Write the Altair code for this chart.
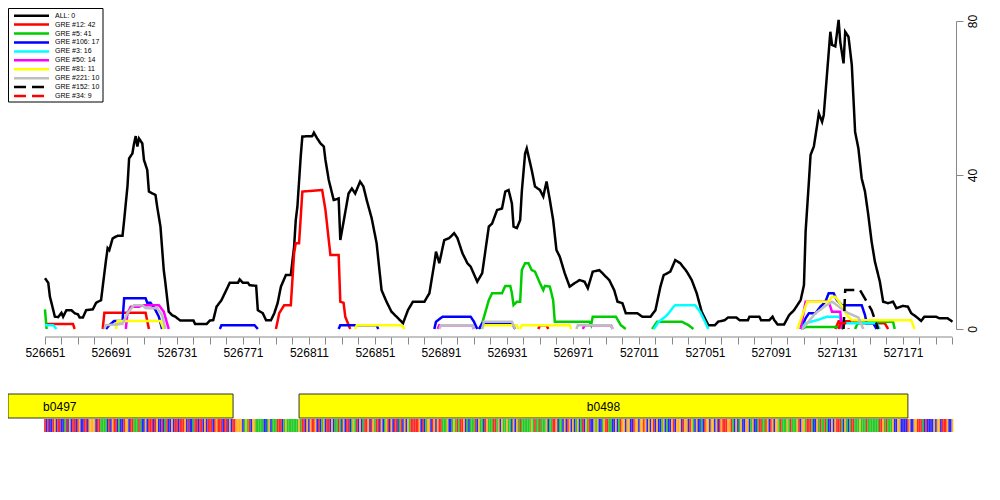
import altair as alt
import pandas as pd

START = 526651
END = 527201

SERIES = ["ALL: 0", "GRE #12: 42", "GRE #5: 41", "GRE #106: 17", "GRE #3: 16",
          "GRE #50: 14", "GRE #81: 11", "GRE #221: 10", "GRE #152: 10", "GRE #34: 9"]
COLORS = ["#000000", "#FF0000", "#00CD00", "#0000FF", "#00FFFF",
          "#FF00FF", "#FFFF00", "#BEBEBE", "#000000", "#FF0000"]
DASHES = [[1, 0]] * 8 + [[12, 6], [12, 6]]

# (offset from START, value) — one list per drawn segment
ALL = [[(0, 13.2), (2, 12), (3, 8.4), (4, 6.7), (6, 3.2), (8, 3.1), (10, 4.2), (11, 3.2), (13, 4.9), (16, 4.9),
        (18, 4.1), (20, 3.8), (21, 3.0), (23, 3.0), (25, 4.9), (29, 5.1), (31, 6.8), (34, 7.5), (35, 11), (37, 17.9),
        (38, 21), (39, 20.5), (41, 23.5), (43, 24), (44, 24.2), (47, 24.2), (48, 28.3), (50, 37), (51, 44.3), (53, 45.6),
        (54, 48.2), (55, 50.1), (56, 47.4), (57, 49.5), (59, 48.2), (60, 43.9), (62, 41.3), (63, 35.7), (67, 34.8),
        (68, 31.8), (70, 26.6), (72, 15.3), (73, 11.9), (75, 4.5), (77, 3.6), (79, 3.2), (82, 2.2), (90, 2.2), (91, 1.3),
        (98, 1.3), (100, 2.2), (102, 2.3), (104, 5.8), (107, 7.5), (109, 9.3), (112, 12), (117, 12), (118, 12.9),
        (120, 12), (123, 12), (124, 11.4), (128, 11.2), (129, 4.9), (132, 4.1), (134, 2.3), (137, 2.3), (139, 4.1),
        (141, 6.7), (143, 11), (146, 14), (149, 14), (151, 21.4), (152, 28.3), (153, 31.8), (155, 44.8), (156, 50),
        (162, 50.1), (163, 51), (165, 49.5), (167, 48.2), (169, 47.4), (170, 43.9), (172, 38.7), (175, 33.5),
        (178, 33.9), (179, 23.1), (181, 27.9), (184, 35.2), (186, 36.5), (188, 35.2), (191, 38.3), (193, 37),
        (195, 33.5), (198, 28.8), (201, 22.3), (204, 10.1), (207, 7.1), (210, 4.5), (214, 2.8), (217, 1.5), (220, 4.9),
        (223, 7.1), (230, 7.1), (233, 9.3), (236, 17.1), (237, 20.1), (239, 17.1), (242, 23.1), (245, 23.6),
        (248, 24.9), (250, 23.6), (253, 19.7), (256, 17.1), (258, 16.2), (262, 12.3), (265, 14.5), (269, 26.6),
        (271, 27.4), (274, 30.9), (277, 31.3), (279, 35.7), (281, 36.1), (283, 32.6), (284, 26.6), (286, 26.2),
        (288, 28.3), (289, 35.7), (291, 45.6), (292, 46.9), (295, 41.3), (297, 37), (300, 36.1), (302, 34.4),
        (304, 38.3), (306, 33.5), (308, 28.3), (310, 20.5), (312, 18.8), (315, 14.5), (318, 11), (321, 11.9),
        (324, 12.7), (327, 12.3), (329, 10.6), (332, 14.9), (336, 15.3), (339, 14), (342, 12.7), (345, 10.1),
        (347, 7.1), (350, 6.7), (352, 4.1), (359, 4.1), (362, 3.2), (367, 3.2), (370, 4.9), (373, 11), (375, 14),
        (379, 14.9), (382, 17.9), (385, 17.1), (389, 14.9), (392, 12.7), (395, 9.3), (398, 4.5), (402, 1.0),
        (406, 1.0), (408, 1.9), (412, 2.3), (414, 3.0), (419, 3.0), (421, 2.3), (426, 2.3), (427, 3.2), (433, 3.2),
        (434, 2.3), (439, 2.3), (441, 3.2), (442, 2.3), (444, 1.2), (448, 1.2), (451, 3.6), (454, 4.9), (458, 7.5),
        (460, 11.4), (461, 25.3), (463, 38.3), (464, 45.2), (466, 47.4), (468, 53), (469, 56), (471, 53.8),
        (472, 55.6), (474, 66.4), (476, 77.2), (477, 73.8), (479, 73.4), (481, 80.3), (482, 74.6), (484, 69),
        (485, 77.2), (487, 75.9), (489, 68.6), (491, 51.2), (493, 46.9), (495, 39.1), (497, 35.7), (499, 29.6),
        (501, 22.7), (503, 17.5), (506, 12.3), (508, 7.1), (511, 6.7), (514, 7.1), (516, 5.4), (520, 6), (523, 5.8),
        (525, 4.1), (528, 3.2), (531, 2.1), (533, 3.2), (540, 3.2), (542, 2.8), (547, 2.8), (550, 1.9)]]

GRE12 = [[(0, 1.3), (17, 1.3), (18, 0)],
         [(35, 0), (36, 4.2), (61, 4.2), (63, 0)],
         [(140, 0), (142, 4.1), (145, 6.2), (149, 6.2), (151, 19.7), (152, 22.3), (154, 22.3), (156, 35.7),
          (168, 36.1), (170, 30.9), (172, 23.1), (173, 19.2), (178, 19.2), (179, 7.1), (181, 6.8), (182, 3.2), (185, 0)],
         [(299, 0), (300, 1), (304, 1), (305, 0)],
         [(479, 0), (481, 2), (492, 2), (493, 1.5), (509, 1.5), (511, 0)]]

GRE5 = [[(0, 5.1), (1, 0)],
        [(264, 0), (269, 7.5), (271, 9.3), (277, 9.3), (279, 11.2), (282, 11.2), (283, 9.3), (284, 6.2), (286, 7.1),
         (288, 7.1), (289, 15.3), (291, 17.1), (293, 17.1), (295, 15.3), (297, 14.9), (300, 11.9), (302, 10.1),
         (303, 11.2), (306, 11), (308, 7.5), (309, 1.9), (330, 1.9), (331, 1), (332, 3.2), (346, 3.2), (349, 1), (352, 0)],
        [(368, 0), (371, 1.9), (386, 1.9), (390, 1), (393, 0)],
        [(459, 0), (461, 0.5), (482, 0.5), (484, 0)],
        [(491, 0), (493, 1.9), (514, 1.9), (515, 0)]]

GRE106 = [[(37, 0), (39, 1), (42, 2.1), (47, 2.1), (48, 8), (61, 8), (62, 6.8), (64, 6.8), (67, 4.9), (69, 3.2), (71, 0)],
          [(106, 0), (107, 1), (127, 1), (129, 0)],
          [(178, 0), (179, 1), (201, 1), (202, 0)],
          [(236, 0), (237, 1.9), (241, 3.2), (258, 3.2), (260, 1.9), (262, 0)],
          [(263, 0), (265, 1.5), (283, 1.5), (285, 0)],
          [(458, 0), (461, 2.8), (463, 4.1), (467, 4.1), (470, 5.8), (473, 7.1), (475, 9.3), (478, 9.3), (480, 7.5),
           (483, 6.2), (495, 6.2), (497, 3.6), (498, 1.5), (502, 1.5), (504, 0)]]

GRE3 = [[(0, 1), (5, 1), (7, 0)],
        [(369, 0), (372, 1.9), (376, 3.2), (378, 4.1), (381, 5.8), (382, 6.2), (394, 6.2), (397, 4.5), (400, 1.9), (402, 0)],
        [(458, 0), (461, 1.5), (468, 2.3), (474, 3.2), (481, 3.2), (484, 1.5), (504, 1.5), (506, 0)]]

GRE50 = [[(49, 0), (50, 4.1), (52, 5.8), (57, 5.8), (59, 6.2), (69, 6.2), (72, 4.5), (75, 0)],
         [(238, 0), (239, 1), (259, 1), (260, 0)],
         [(326, 0), (327, 1), (343, 1), (344, 0)],
         [(458, 0), (461, 7.1), (475, 7.1), (477, 4.5), (482, 4.5), (483, 0)]]

GRE81 = [[(43, 0), (44, 2.1), (70, 2.1), (72, 0)],
         [(188, 0), (189, 1), (216, 1), (218, 0)],
         [(265, 0), (266, 1), (286, 1), (287, 0)],
         [(288, 0), (289, 1), (318, 1), (319, 0)],
         [(456, 0), (462, 7.1), (475, 7.1), (477, 8.4), (479, 8.4), (484, 5.4), (486, 3.6), (489, 2.3), (525, 2.3), (527, 0)]]

GRE221 = [[(36, 0), (37, 1), (47, 1.3), (50, 4.1), (54, 6.2), (59, 6.2), (61, 5.4), (68, 5.4), (71, 3.6), (73, 0)],
          [(239, 0), (240, 1), (259, 1), (260, 0)],
          [(265, 0), (266, 1.9), (283, 1.9), (285, 0)],
          [(322, 0), (323, 1), (343, 1), (344, 0)],
          [(459, 0), (467, 4.1), (473, 6), (477, 7.1), (479, 6.5), (483, 5.2), (487, 4.1), (493, 3), (496, 0)]]

GRE152 = [[(484, 0), (485, 10.1), (494, 10.1), (498, 7.1), (501, 4.9), (505, 0)]]

GRE34 = [[(481, 0), (482, 1.5), (486, 1.5), (487, 0)]]

SERIES_DATA = [ALL, GRE12, GRE5, GRE106, GRE3, GRE50, GRE81, GRE221, GRE152, GRE34]

X_TICKS = list(range(START, END + 1, 10))
Y_TICKS = [0, 40, 80]

GENE_NAMES = ["b0497", "b0498"]
GENE_START = [526555, 526805]
GENE_END = [526765, 527174]

SEQ = ("TCTCCTGCTTCCATCGCTTCTGCCTTCGGGGCTTAAAACTCGTTCACCTG"
       "GCTTAAATACCGCTTTCTGCCTCATCCGCTTCTTTGCTCCATTCTTCGCT"
       "TTCTGTTTCTTCGCTTGGGGCAGATCGGAAAAACCAGCAAATTTCAGAAA"
       "AAAAGATTCGCGTTGCTCAGCTTCGCAATACGCTTCAGATCGCATTGCTG"
       "ATTCGCAGTCGCTTCATCGCGATTTTTGCTCAGGCTGCGTTAAAGCCAGA"
       "TATTGCACAAATCGAACTGAAATTAGCGAAGAACGCGATAAAAAAGATAA"
       "TAAAGCAATTGCAACGCTGCGCAGCATCGATCCGAGCCAGTTAACCGCAT"
       "GGCGGCCTGGCGGTGCGCGTCGCCAGCACCGTCGGGCTGGCTGACGCCAC"
       "TGGCGGCGCTGTTTGGTACGCAGCCGGCAGCCATTAATGCTGCGGATAAA"
       "GATAAAGTCGGATTTACCGATAATACCGCGTTTACGACATTAAAGAAATA"
       "AAAAAATTGATAAAGCCGGCCCCTGCCGGTTTACTCCCCGCGGCTTTGCCG")
BASES = ["A", "C", "G", "T"]
BASE_COLORS = ["#00C000", "#0000FF", "#FFA500", "#FF0000"]

# ---------------- tables ----------------
rows = []
for name, segs in zip(SERIES, SERIES_DATA):
    for si, seg in enumerate(segs):
        for off, val in seg:
            rows.append({"series": name, "key": f"{name}|{si}", "pos": START + off, "value": val})
line_df = pd.DataFrame(rows)

gene_df = pd.DataFrame({"name": GENE_NAMES, "start": GENE_START, "end": GENE_END})
gene_df["mid"] = (gene_df["start"] + gene_df["end"]) / 2

seq_df = pd.DataFrame({"base": list(SEQ[:END - START + 1])})
seq_df["pos"] = [START + i for i in range(len(seq_df))]
seq_df["x0"] = seq_df["pos"] - 0.5
seq_df["x1"] = seq_df["pos"] + 0.5

W, H = 948, 308
FONT = "Liberation Sans"

xscale = alt.Scale(domain=[526628.6, 527203.15], clamp=True, nice=False, zero=False)
yscale = alt.Scale(domain=[0, 80], nice=False, zero=False)

xaxis = alt.Axis(values=X_TICKS, domain=False, grid=False, tickColor="#888888", tickSize=7, offset=8,
                 labelExpr=f"(datum.value - {START}) % 40 == 0 ? format(datum.value, 'd') : ''",
                 labelFontSize=12, labelFont=FONT, labelColor="#000000", labelPadding=3,
                 labelOverlap=False, labelFlush=False)
yaxis = alt.Axis(orient="right", values=Y_TICKS, grid=False, domainColor="#888888", tickColor="#888888",
                 tickSize=7, labelAngle=270, labelAlign="center", labelBaseline="top", labelPadding=4,
                 labelFontSize=12, labelFont=FONT, labelColor="#000000")

color_scale = alt.Scale(domain=SERIES, range=COLORS)
dash_scale = alt.Scale(domain=SERIES, range=DASHES)


def xenc(field):
    return alt.X(field, scale=xscale, axis=xaxis, title=None)


lines = alt.Chart(line_df).mark_line(strokeWidth=2.5).encode(
    x=xenc("pos:Q"),
    y=alt.Y("value:Q", scale=yscale, axis=yaxis, title=None),
    color=alt.Color("series:N", scale=color_scale, legend=None),
    strokeDash=alt.StrokeDash("series:N", scale=dash_scale, legend=None),
    detail="key:N",
)

axis_line = alt.Chart(pd.DataFrame({"a": [START], "b": [END]})).mark_rule(color="#888888", strokeWidth=1).encode(
    x=xenc("a:Q"), x2="b:Q", y=alt.value(H + 8))

genes = alt.Chart(gene_df).mark_rect(fill="#FFFF00", stroke="#333333", strokeWidth=1).encode(
    x=xenc("start:Q"), x2="end:Q", y=alt.value(H + 65), y2=alt.value(H + 89))

gene_text = alt.Chart(gene_df).mark_text(font=FONT, fontSize=12, color="#000000", baseline="middle").encode(
    x=xenc("mid:Q"), y=alt.value(H + 78), text="name:N")

seq = alt.Chart(seq_df).mark_rect(opacity=0.85).encode(
    x=xenc("x0:Q"), x2="x1:Q", y=alt.value(H + 90), y2=alt.value(H + 103),
    fill=alt.Fill("base:N", scale=alt.Scale(domain=BASES, range=BASE_COLORS), legend=None))

main = alt.layer(genes, gene_text, seq, axis_line, lines)

# ---- legend drawn by hand ----
leg_df = pd.DataFrame({"series": SERIES})
leg_y = alt.Y("series:N", scale=alt.Scale(type="point", domain=SERIES, range=[-5.3, 75], padding=0), axis=None)

box = alt.Chart(pd.DataFrame({"a": [0]})).mark_rect(fill="white", stroke="#000000", strokeWidth=1).encode(
    x=alt.value(0.5), x2=alt.value(95), y=alt.value(-12.5), y2=alt.value(81))
leg_lines = alt.Chart(leg_df).mark_rule(strokeWidth=2.5, strokeCap="butt").encode(
    x=alt.value(6), x2=alt.value(41), y=leg_y,
    color=alt.Color("series:N", scale=color_scale, legend=None),
    strokeDash=alt.StrokeDash("series:N", scale=dash_scale, legend=None))
leg_text = alt.Chart(leg_df).mark_text(font=FONT, fontSize=7, align="left", baseline="middle", color="#000000").encode(
    x=alt.value(47), y=leg_y, text="series:N")

legend = alt.layer(box, leg_lines, leg_text)

chart = alt.layer(main, legend).resolve_scale(y="independent").properties(
    width=W, height=H,
    padding={"left": 0, "top": 13, "right": 36, "bottom": 160},
    autosize=alt.AutoSizeParams(type="none"),
).configure_view(stroke=None)

chart.save("out.html", embed_options={"renderer": "svg", "actions": False})
